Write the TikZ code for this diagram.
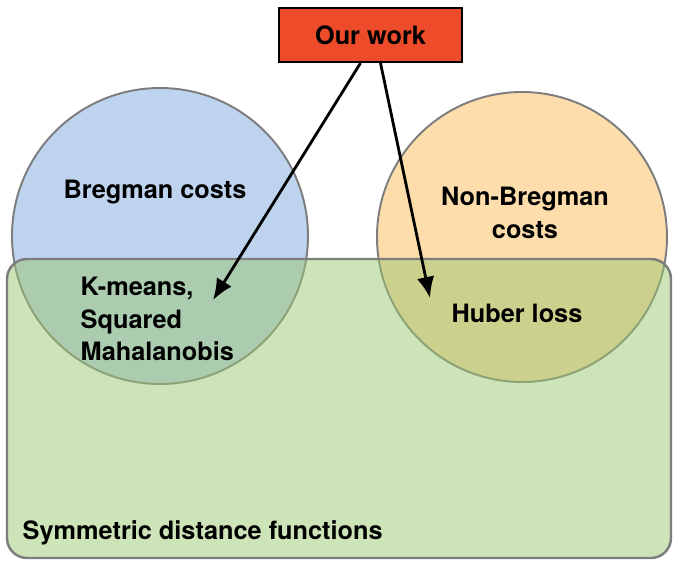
\documentclass[tikz,border=0pt]{standalone}
\usepackage{fontspec}
\setmainfont{TeX Gyre Heros}
\usetikzlibrary{arrows.meta}
\definecolor{bregblue}{RGB}{189,211,238}
\definecolor{nonbregorange}{RGB}{252,221,171}
\definecolor{symgreen}{RGB}{155,199,113}
\definecolor{workred}{RGB}{238,75,43}
\definecolor{rim}{RGB}{125,125,125}

\begin{document}
\begin{tikzpicture}[
  venn/.style={circle, draw=rim, line width=0.55pt, inner sep=0pt},
  lbl/.style={font=\fontsize{7.2}{9.2}\selectfont\bfseries, inner sep=0pt},
  pointer/.style={-{Latex[length=6pt,width=5pt]}, line width=0.8pt}
]
\useasboundingbox (0,0) rectangle (6.74,5.62);

% the two families of costs
\node[venn, fill=bregblue, minimum size=2.96cm] (breg) at (1.60,3.26) {};
\node[venn, fill=nonbregorange, minimum size=2.90cm] (nonbreg) at (5.22,3.25) {};

% symmetric functions, laid over both circles
\draw[rim, line width=0.7pt, fill=symgreen, fill opacity=0.5, rounded corners=0.2cm]
  (0.07,0.04) rectangle (6.71,3.03);

\node[lbl] (bregtxt) at (1.55,3.70) {Bregman costs};
\node[lbl, align=center] (nonbregtxt) at (5.25,3.49) {Non-Bregman\\costs};
\node[lbl, align=left, anchor=west] (kmeans) at (0.80,2.43) {K-means,\\Squared\\Mahalanobis};
\node[lbl] (huber) at (5.17,2.49) {Huber loss};
\node[lbl, anchor=west] (symtxt) at (0.22,0.29) {Symmetric distance functions};

% our work
\node[draw, line width=0.6pt, fill=workred, minimum width=1.83cm, minimum height=0.54cm,
  font=\fontsize{7.2}{9}\selectfont\bfseries] (work) at (3.705,5.27) {Our work};

\coordinate (kmeanstip) at (2.13,2.62);
\coordinate (hubertip) at (4.30,2.64);
\draw[pointer] ([xshift=-0.1cm]work.south) -- (kmeanstip);
\draw[pointer] ([xshift=0.1cm]work.south) -- (hubertip);
\end{tikzpicture}
\end{document}
